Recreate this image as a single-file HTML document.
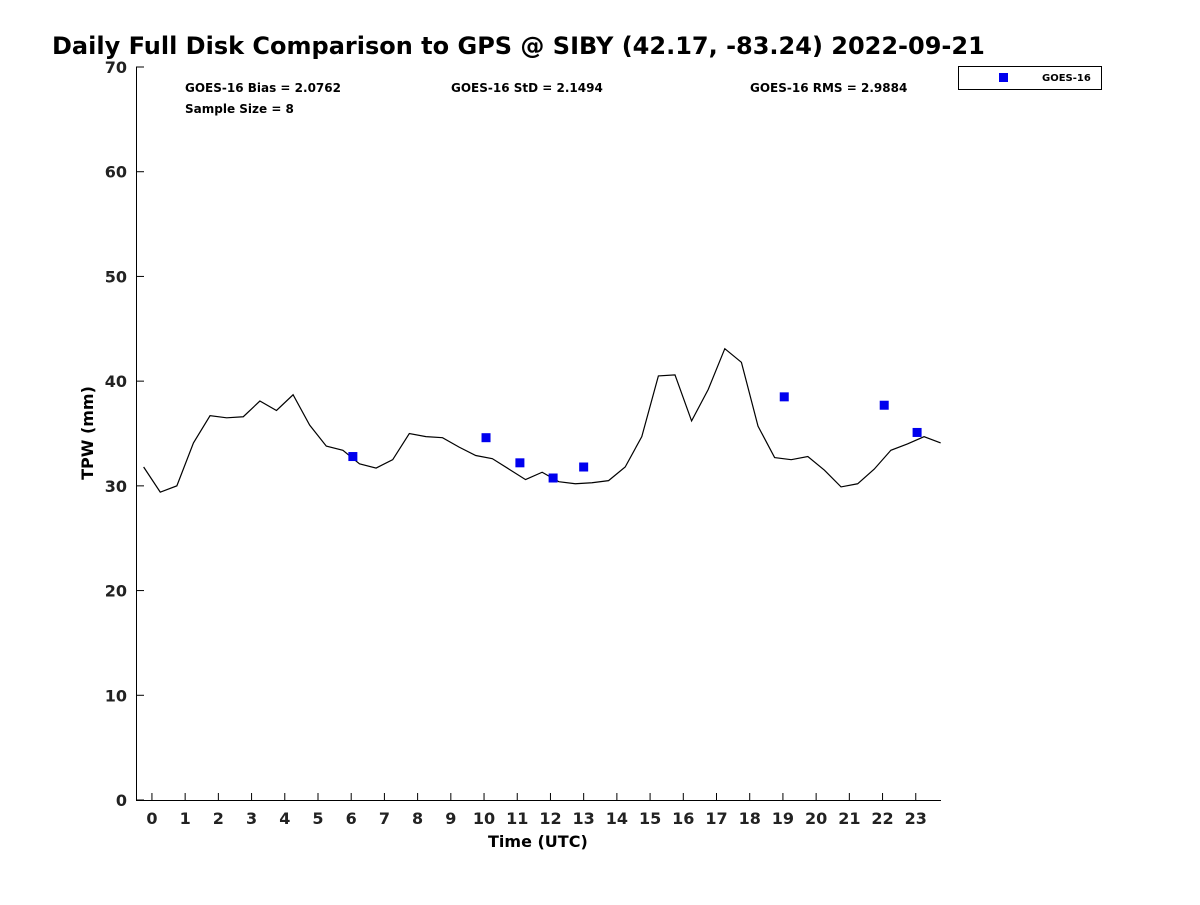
<!DOCTYPE html>
<html><head><meta charset="utf-8"><style>
body{margin:0;background:#fff;}
svg{font-family:"DejaVu Sans","Liberation Sans",sans-serif;font-weight:bold;}
</style></head><body>
<svg id="chart" width="1200" height="900" xmlns="http://www.w3.org/2000/svg">
<rect width="1200" height="900" fill="#fff"/>
<text x="52" y="54" font-size="24" fill="#000">Daily Full Disk Comparison to GPS @ SIBY (42.17, -83.24) 2022-09-21</text>
<g id="axes"></g>
<g id="marks"></g>
<text x="185" y="92" font-size="12">GOES-16 Bias = 2.0762</text>
<text x="451" y="92" font-size="12">GOES-16 StD = 2.1494</text>
<text x="750" y="92" font-size="12">GOES-16 RMS = 2.9884</text>
<text x="185" y="113" font-size="12">Sample Size = 8</text>
<g>
<rect x="958.5" y="66.5" width="143" height="23" fill="#fff" stroke="#000" stroke-width="1"/>
<rect x="999" y="73" width="9" height="9" fill="#0000ee"/>
<text x="1042" y="81" font-size="10">GOES-16</text>
</g>
<text x="488" y="847" font-size="16">Time (UTC)</text>
<text transform="translate(93,433) rotate(-90)" text-anchor="middle" font-size="16">TPW (mm)</text>
</svg>
<script>
const gpsTimes=[-0.25,0.25,0.75,1.25,1.75,2.25,2.75,3.25,3.75,4.25,4.75,5.25,5.75,6.25,6.75,7.25,7.75,8.25,8.75,9.25,9.75,10.25,10.75,11.25,11.75,12.25,12.75,13.25,13.75,14.25,14.75,15.25,15.75,16.25,16.75,17.25,17.75,18.25,18.75,19.25,19.75,20.25,20.75,21.25,21.75,22.25,22.75,23.25,23.75];
const gpsValues=[31.8,29.4,30.0,34.1,36.7,36.5,36.6,38.1,37.2,38.7,35.8,33.8,33.4,32.1,31.7,32.5,35.0,34.7,34.6,33.7,32.9,32.6,31.6,30.6,31.3,30.4,30.2,30.3,30.5,31.8,34.7,40.5,40.6,36.2,39.2,43.1,41.8,35.7,32.7,32.5,32.8,31.5,29.9,30.2,31.6,33.4,34.0,34.7,34.1];
const goesTimes=[6.05,10.06,11.08,12.08,13.0,19.04,22.05,23.04];
const goesValues=[32.8,34.6,32.2,30.75,31.8,38.5,37.7,35.1];
const xTicks=[0,1,2,3,4,5,6,7,8,9,10,11,12,13,14,15,16,17,18,19,20,21,22,23];
const yTicks=[0,10,20,30,40,50,60,70];
const NS="http://www.w3.org/2000/svg";
const X0=136,X1=941,Y0=800,Y1=67,xmin=-0.48,xmax=23.76,ymin=0,ymax=70;
const sx=t=>X0+(t-xmin)/(xmax-xmin)*(X1-X0);
const sy=v=>Y0-(v-ymin)/(ymax-ymin)*(Y0-Y1);
function mk(tag,attrs,parent){const e=document.createElementNS(NS,tag);for(const k in attrs)e.setAttribute(k,attrs[k]);parent.appendChild(e);return e;}
const axes=document.getElementById('axes'),marks=document.getElementById('marks');
let a=mk('line',{x1:X0,y1:Y0+0.5,x2:X1,y2:Y0+0.5,stroke:'#000'},axes);


a=mk('line',{x1:X0+0.5,y1:Y1,x2:X0+0.5,y2:Y0,stroke:'#000'},axes);


xTicks.forEach(t=>{const x=sx(t);
 mk('line',{x1:x,y1:Y0,x2:x,y2:Y0-7,stroke:'#000'},axes);
 const tx=mk('text',{x:x,y:Y0+24,'text-anchor':'middle','font-size':16,fill:'#222'},axes);tx.textContent=t;
 
 });
yTicks.forEach(v=>{const y=sy(v);
 mk('line',{x1:X0,y1:y,x2:X0+8,y2:y,stroke:'#000'},axes);
 const tx=mk('text',{x:X0-9,y:y+6,'text-anchor':'end','font-size':16,fill:'#222'},axes);tx.textContent=v;
 
 });
const pl=mk('polyline',{points:gpsTimes.map((t,i)=>sx(t)+','+sy(gpsValues[i])).join(' '),fill:'none',stroke:'#000','stroke-width':1.2},marks);


goesTimes.forEach((t,i)=>{const r=mk('rect',{x:sx(t)-4.5,y:sy(goesValues[i])-4.5,width:9,height:9,fill:'#0000ee'},marks);
 
 });
</script>
</body></html>
